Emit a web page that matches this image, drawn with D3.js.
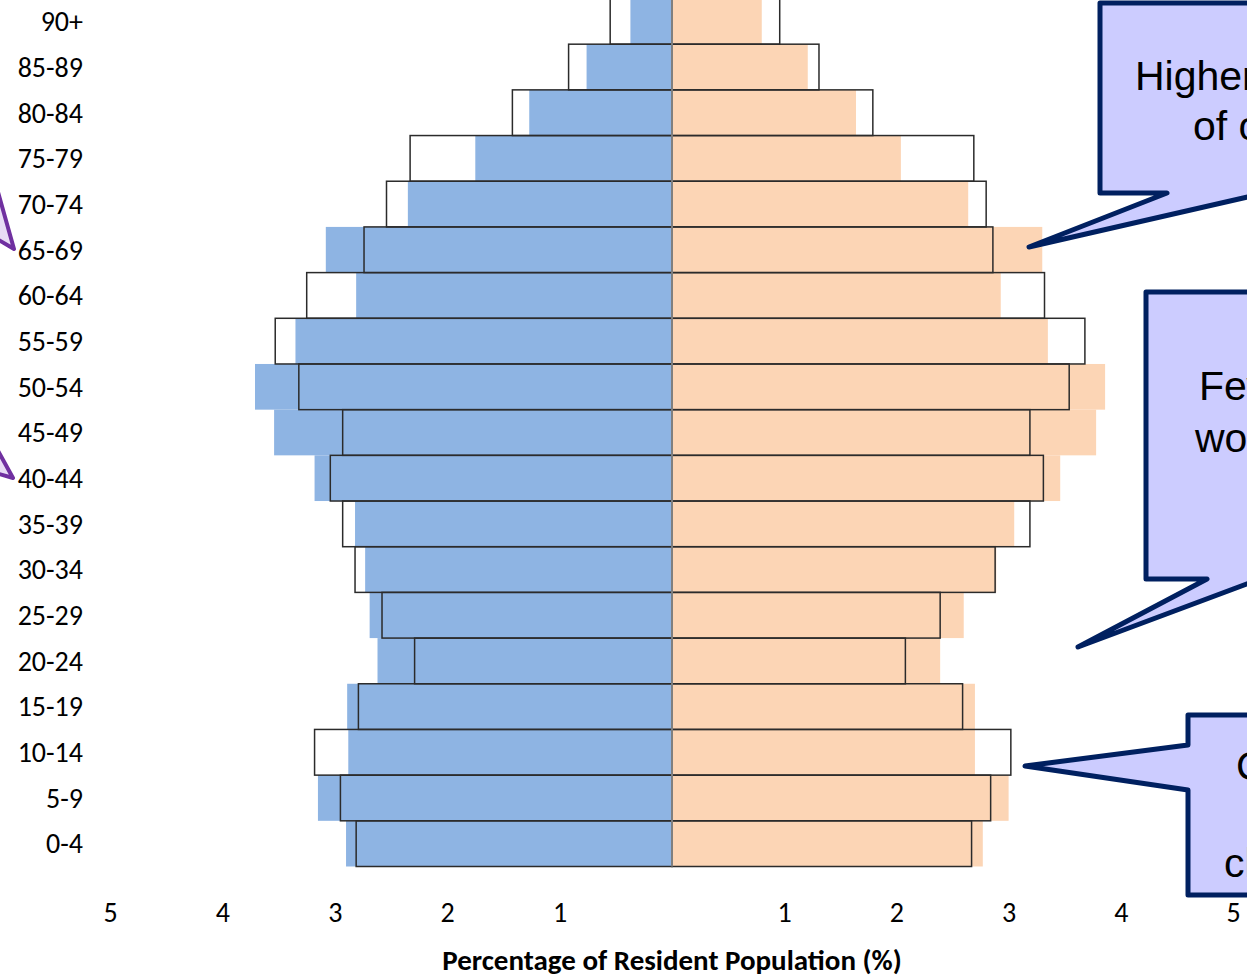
<!DOCTYPE html>
<html>
<head>
<meta charset="utf-8">
<script src="https://cdn.jsdelivr.net/npm/d3@7"></script>
<style>
  body { margin: 0; background: #fff; overflow: hidden; }
  text { font-family: Carlito, Calibri, Lato, sans-serif; }
</style>
</head>
<body>
<script>
const SvgWidth = 1247, SvgHeight = 977;

// age groups, top of pyramid first
var ageGroups = ["90+","85-89","80-84","75-79","70-74","65-69","60-64","55-59","50-54","45-49",
                 "40-44","35-39","30-34","25-29","20-24","15-19","10-14","5-9","0-4"];
// filled bars (%)
var maleNow   = [0.37,0.76,1.27,1.75,2.35,3.08,2.81,3.35,3.71,3.54,3.18,2.82,2.73,2.69,2.62,2.89,2.88,3.15,2.90];
var femaleNow = [0.80,1.21,1.64,2.04,2.64,3.30,2.93,3.35,3.86,3.78,3.46,3.05,2.89,2.60,2.39,2.70,2.70,3.00,2.77];
// outlined bars (%)
var maleRef   = [0.55,0.92,1.42,2.33,2.54,2.74,3.25,3.53,3.32,2.93,3.04,2.93,2.82,2.58,2.29,2.79,3.18,2.95,2.81];
var femaleRef = [0.96,1.31,1.79,2.69,2.80,2.86,3.32,3.68,3.54,3.19,3.31,3.19,2.88,2.39,2.08,2.59,3.02,2.84,2.67];
var tickValues = [1,2,3,4,5];

var svg = d3.select('body')
  .append('svg')
  .attr('width', SvgWidth)
  .attr('height', SvgHeight)
  .style('background-color', 'white');

var center = 672;
var xL = d3.scaleLinear().domain([0,5]).range([center, 110]);
var xR = d3.scaleLinear().domain([0,5]).range([center, 1233]);
var y = d3.scaleBand().domain(ageGroups).range([-1.5, 866.5]).padding(0);

var rows = ageGroups.map(function(a,i){
  return {age:a, mN:maleNow[i], fN:femaleNow[i], mR:maleRef[i], fR:femaleRef[i]};
});

// filled bars
svg.selectAll('.male').data(rows).enter().append('rect')
  .attr('class','male')
  .attr('fill','#8eb4e3')
  .attr('x', function(d){ return xL(d.mN); })
  .attr('y', function(d){ return y(d.age); })
  .attr('width', function(d){ return center - xL(d.mN); })
  .attr('height', y.bandwidth());
svg.selectAll('.female').data(rows).enter().append('rect')
  .attr('class','female')
  .attr('fill','#fcd5b5')
  .attr('x', center)
  .attr('y', function(d){ return y(d.age); })
  .attr('width', function(d){ return xR(d.fN) - center; })
  .attr('height', y.bandwidth());

// outline bars
svg.selectAll('.maleRef').data(rows).enter().append('rect')
  .attr('class','maleRef')
  .attr('fill','none')
  .attr('stroke','#2b2b2b')
  .attr('stroke-width',1.5)
  .attr('x', function(d){ return xL(d.mR); })
  .attr('y', function(d){ return y(d.age); })
  .attr('width', function(d){ return center - xL(d.mR); })
  .attr('height', y.bandwidth());
svg.selectAll('.femaleRef').data(rows).enter().append('rect')
  .attr('class','femaleRef')
  .attr('fill','none')
  .attr('stroke','#2b2b2b')
  .attr('stroke-width',1.5)
  .attr('x', center)
  .attr('y', function(d){ return y(d.age); })
  .attr('width', function(d){ return xR(d.fR) - center; })
  .attr('height', y.bandwidth());

// centre line
svg.append('line')
  .attr('x1', center).attr('x2', center)
  .attr('y1', y.range()[0]).attr('y2', y.range()[1])
  .attr('stroke','#9a9a9a').attr('stroke-width',1.5);

// axes
var axisL = svg.append('g')
  .attr('transform','translate(0,899)')
  .call(d3.axisBottom(xL).tickValues(tickValues).tickSize(0).tickFormat(d3.format('d')));
var axisR = svg.append('g')
  .attr('transform','translate(0,899)')
  .call(d3.axisBottom(xR).tickValues(tickValues).tickSize(0).tickFormat(d3.format('d')));
var axisY = svg.append('g')
  .attr('transform','translate(83,0)')
  .call(d3.axisLeft(y).tickSize(0).tickPadding(0));
[axisL, axisR, axisY].forEach(function(g){
  g.select('.domain').remove();
  g.selectAll('text').attr('font-size', 28).attr('fill','#000')
    .style('font-family','Carlito, Calibri, Lato, sans-serif');
});
axisY.selectAll('text').attr('dy','0.35em');

svg.append('text')
  .attr('x', center).attr('y', 970)
  .attr('text-anchor','middle')
  .attr('font-size', 29)
  .attr('font-weight','bold')
  .text('Percentage of Resident Population (%)');

// left purple arrow heads (cut off at the page edge)
var arrows = [
  [[-4,185],[14,249],[-8,236]],
  [[-8,440],[13,478],[-8,472]]
];
svg.selectAll('.arrow').data(arrows).enter().append('path')
  .attr('class','arrow')
  .attr('d', function(d){ return d3.line()(d) + 'Z'; })
  .attr('fill','#e8dcf5')
  .attr('stroke','#7030a0')
  .attr('stroke-width',4)
  .attr('stroke-linejoin','round');

// callouts
var callouts = [
  {pts:[[1100,3],[1300,3],[1300,193],[1265,193],[1029,247],[1167,193],[1100,193]],
   lines:[{t:'Higher proportion', x:1135, y:90},{t:'of older people', x:1193, y:140}]},
  {pts:[[1146,292],[1300,292],[1300,579],[1260,579],[1078,647],[1207,579],[1146,579]],
   lines:[{t:'Fewer people of', x:1199, y:400},{t:'working age', x:1195, y:452}]},
  {pts:[[1188,715],[1300,715],[1300,895],[1188,895],[1188,790],[1025,766],[1188,745]],
   lines:[{t:'Children', x:1236, y:780},{t:'', x:1260, y:828},{t:'children', x:1224, y:877}]}
];
var cg = svg.selectAll('.callout').data(callouts).enter().append('g').attr('class','callout');
cg.append('path')
  .attr('d', function(d){ return d3.line()(d.pts) + 'Z'; })
  .attr('fill','#ccccff')
  .attr('stroke','#002060')
  .attr('stroke-width',5)
  .attr('stroke-linejoin','round');
cg.selectAll('text').data(function(d){ return d.lines; }).enter().append('text')
  .attr('x', function(d){ return d.x; })
  .attr('y', function(d){ return d.y; })
  .attr('font-size', 41)
  .style('font-family','"Liberation Sans", Arial, sans-serif')
  .attr('fill','#000')
  .text(function(d){ return d.t; });
</script>
</body>
</html>
